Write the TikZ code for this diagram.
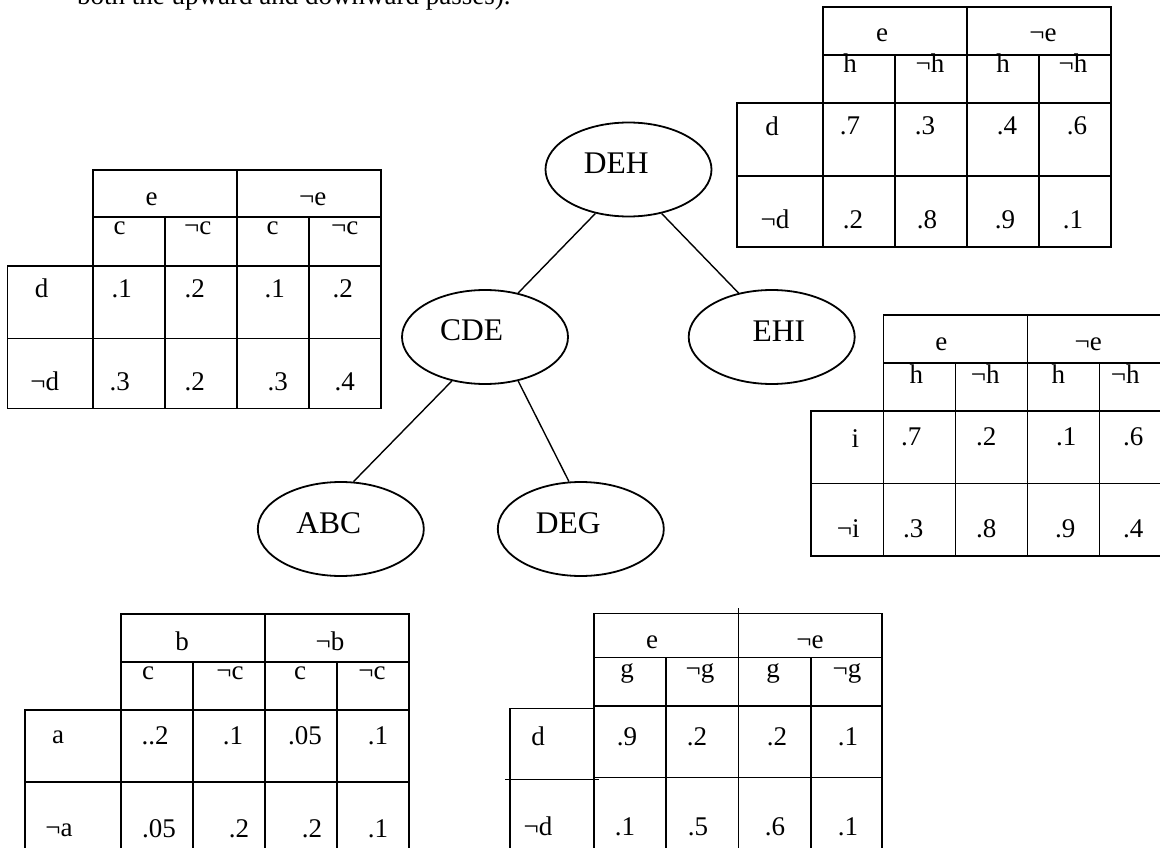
\documentclass[tikz,border=0pt]{standalone}
\usepackage{fontspec}
\setmainfont{Liberation Serif}
\usetikzlibrary{shapes.geometric}
\newcommand{\cpgrid}[5]{%
  \draw[tbl] (0,0) -- (288,0);
  \draw[tbl] (0,#2) -- (288,#2);
  \draw[tbl] (#1,#3) -- (288,#3);
  \draw[tbl] (#1,#4) -- (288,#4);
  \draw[tbl] (#1,#5) -- (288,#5);
  \draw[tbl] (#1,#3) -- (#1,#5);
  \draw[tbl] (0,0) -- (0,#5);
  \draw[tbl] (72,#2) -- (72,#5);
  \draw[tbl] (144,0) -- (144,#5);
  \draw[tbl] (216,#2) -- (216,#5);
  \draw[tbl] (288,0) -- (288,#5);
}
\begin{document}
\begin{tikzpicture}[x=1pt,y=-1pt,
  tbl/.style={line width=1.6pt, line cap=rect},
  cell/.style={font=\fontsize{27}{30}\selectfont, inner sep=0pt, anchor=base},
  clique/.style={ellipse, draw, line width=1.8pt, minimum width=166pt, minimum height=94pt, inner sep=0pt},
  cliquelab/.style={font=\fontsize{31.5}{34}\selectfont, inner sep=0pt, anchor=base},
  link/.style={line width=1.4pt}]
\useasboundingbox (0,0) rectangle (1160,848);
\clip (0,0) rectangle (1160,848);
\fill[white] (0,0) rectangle (1160,848);

% top text (cut by the frame, as in the reference)
\node[cell, anchor=base west] (toptext) at (77,4.5) {both the upward and downward passes).};

% cliques
\node[clique] (DEH) at (628.5,169.5) {};
\node[clique] (CDE) at (485,337) {};
\node[clique] (EHI) at (771.7,337) {};
\node[clique] (ABC) at (340.8,529) {};
\node[clique] (DEG) at (580.8,529) {};
\node[cliquelab] (DEHl) at (616.3,173.7) {DEH};
\node[cliquelab] (CDEl) at (471.7,340.4) {CDE};
\node[cliquelab] (EHIl) at (778.8,341.2) {EHI};
\node[cliquelab] (ABCl) at (328.8,533.7) {ABC};
\node[cliquelab] (DEGl) at (568.3,533.7) {DEG};

\draw[link] (DEH.233) -- (CDE.53);
\draw[link] (DEH.307) -- (EHI.127);
\draw[link] (CDE.233) -- (ABC.75);
\draw[link] (CDE.307) -- (DEG.104);

% table for DEH (top right)
\begin{scope}[shift={(823,7)}]
  \cpgrid{-86}{48}{96}{169}{240}
  \foreach \px/\py/\cptxt [count=\k] in {59/35/e, 220/35/¬e,
     27/66/h, 107/66/¬h, 180/66/h, 250/66/¬h,
     -51/129/d, 27/128/.7, 102/128/.3, 184/128/.4, 254/128/.6,
     -48/222/¬d, 30/222/.2, 104/222/.8, 182/222/.9, 250/222/.1}
    {\node[cell] (DEHt\k) at (\px,\py) {\cptxt};}
\end{scope}

% table for CDE (left)
\begin{scope}[shift={(92.7,170)}]
  \cpgrid{-85.4}{46.7}{96}{168.3}{238.3}
  \foreach \px/\py/\cptxt [count=\k] in {59/35/e, 220/35/¬e,
     27/64/c, 105/64/¬c, 180/64/c, 252/64/¬c,
     -51/127/d, 29/127/.1, 102/127/.2, 182/127/.1, 250/127/.2,
     -48/220/¬d, 27/220/.3, 102/220/.2, 185/220/.3, 252/220/.4}
    {\node[cell] (CDEt\k) at (\px,\py) {\cptxt};}
\end{scope}

% table for EHI (right)
\begin{scope}[shift={(883.3,315)}]
  \cpgrid{-72.6}{47.7}{96}{168.3}{240.7}
  \foreach \px/\py/\cptxt [count=\k] in {58/35/e, 205/35/¬e,
     33/68/h, 102/68/¬h, 175/68/h, 242/68/¬h,
     -28/132/i, 28/130/.7, 103/130/.2, 183/130/.1, 250/130/.6,
     -35/222/¬i, 30/222/.3, 103/222/.8, 182/222/.9, 250/222/.4}
    {\node[cell] (EHIt\k) at (\px,\py) {\cptxt};}
\end{scope}

% table for ABC (bottom left)
\begin{scope}[shift={(121,614)}]
  \cpgrid{-96}{47.7}{96}{167.7}{245}
  \foreach \px/\py/\cptxt [count=\k] in {61/36/b, 209/36/¬b,
     27/65/c, 109/65/¬c, 179/65/c, 251/65/¬c,
     -63/129/a, 34/130/..2, 112/130/.1, 184/130/.05, 257/130/.1,
     -62/222/¬a, 38/223/.05, 118/223/.2, 191/223/.2, 257/223/.1}
    {\node[cell] (ABCt\k) at (\px,\py) {\cptxt};}
\end{scope}

% table for DEG (bottom right)
\begin{scope}[shift={(594,613.3)}]
  \draw[tbl] (0,0) -- (287.7,0);
  \draw[tbl] (0,44) -- (287.7,44);
  \draw[tbl] (0,92.7) -- (287.7,92.7);
  \draw[tbl] (-84,95) -- (0,95);
  \draw[tbl] (0,164) -- (287.7,164);
  \draw[tbl] (-88,166) -- (4,166);
  \draw[tbl] (-84,95) -- (-84,245);
  \draw[tbl] (0,0) -- (0,245);
  \draw[tbl] (72,44) -- (72,245);
  \draw[tbl] (144.3,-5) -- (144.3,245);
  \draw[tbl] (216.7,44) -- (216.7,245);
  \draw[tbl] (287.7,0) -- (287.7,245);
  \foreach \px/\py/\cptxt [count=\k] in {58/35/e, 216/35/¬e,
     33/64/g, 106/64/¬g, 179/64/g, 253/64/¬g,
     -56/132/d, 33/132/.9, 103/132/.2, 183/132/.2, 254/132/.1,
     -56/222/¬d, 31/222/.1, 104/222/.5, 181/222/.6, 254/222/.1}
    {\node[cell] (DEGt\k) at (\px,\py) {\cptxt};}
\end{scope}
\end{tikzpicture}
\end{document}
